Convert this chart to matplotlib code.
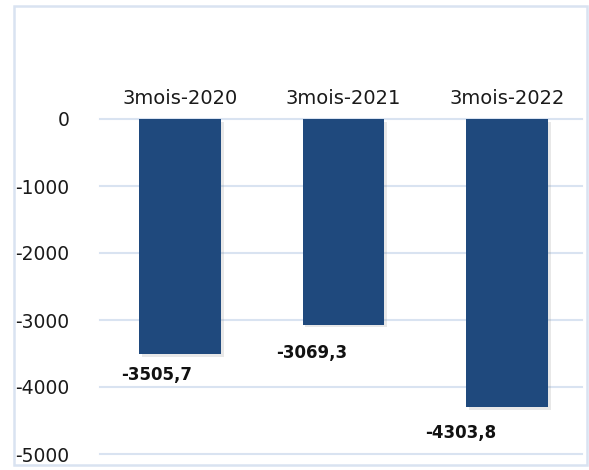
import matplotlib.pyplot as plt
import matplotlib.patheffects as pe
from matplotlib.patches import Rectangle

# data
categories = ['3mois-2020', '3mois-2021', '3mois-2022']
values = [-3505.7, -3069.3, -4303.8]
value_labels = ['-3505,7', '-3069,3', '-4303,8']
yticks = [0, -1000, -2000, -3000, -4000, -5000]

bar_color = '#1F497D'
grid_color = '#D9E3F1'

fig = plt.figure(figsize=(5.89, 4.70), dpi=100)
ax = fig.add_axes([100 / 589, 16 / 470, 482 / 589, 335 / 470])

x = list(range(len(categories)))
bars = ax.bar(x, values, width=0.5, color=bar_color, zorder=3)
for b in bars:
    b.set_path_effects([pe.SimplePatchShadow(offset=(2, -2), shadow_rgbFace='gray', alpha=0.18),
                        pe.Normal()])

ax.set_xlim(-0.489, 2.459)
ax.set_ylim(-5000, 0)
ax.set_yticks(yticks)
ax.set_yticklabels([str(t) for t in yticks])
ax.tick_params(axis='y', length=0, pad=22, labelsize=13.5)
ax.set_xticks([])
for t in ax.get_yticklabels():
    t.set_color('#1a1a1a')

for y in yticks:
    ax.axhline(y, color=grid_color, lw=1.5, zorder=1, clip_on=False)

for s in ax.spines.values():
    s.set_visible(False)

# category names above the plot
for i, c in enumerate(categories):
    ax.annotate(c, (i, 0), xytext=(0, 21), textcoords='offset pixels',
                ha='center', va='center', fontsize=14, color='#1a1a1a')

# value labels (moved a bit left, as in the original)
label_offsets = [(-23, -21), (-32, -28), (-46, -26)]
for i, (v, lab) in enumerate(zip(values, value_labels)):
    dx, dy = label_offsets[i]
    ax.annotate(lab, (i, v), xytext=(dx, dy), textcoords='offset pixels',
                ha='center', va='center', fontsize=12, fontweight='bold',
                color='#111111', annotation_clip=False)

# outer frame
fig.patches.append(Rectangle((13.5 / 589, 5 / 470), 573.5 / 589, 459 / 470,
                             transform=fig.transFigure, fill=False,
                             edgecolor=grid_color, lw=1.8))

fig.savefig('out.png', dpi=100)
